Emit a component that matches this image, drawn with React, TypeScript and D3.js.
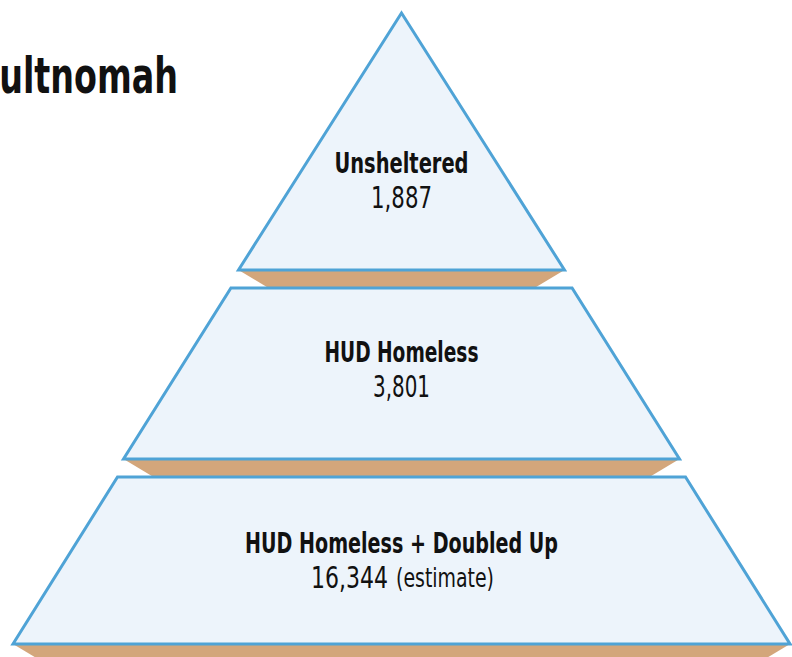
import React from "react";
import * as d3 from "d3";

// ---- data ----
const tierLabels = ["Unsheltered", "HUD Homeless", "HUD Homeless + Doubled Up"];
const tierValues = [1887, 3801, 16344];
const tierNotes = ["", "", "(estimate)"];
const titleText = "Multnomah";

// ---- layout ----
const W = 792;
const H = 657;
const CX = 401.5;
const APEX_Y = 13;
const GAP = 18; // depth of the tan base under each tier
const tierBottoms = [270, 459, 644];
const SHADOW_INSET = 30;
const labelBaselines = [173, 362, 553];
const valueOffset = 35;
// rendered widths of the condensed typeface in the source
const labelWidths = [134, 154, 313];
const valueWidths = [61, 57, 77];
const noteWidths = [0, 0, 98];
const NOTE_GAP = 8;

const FONT = "'Liberation Sans Narrow', 'DejaVu Sans Condensed', 'Arial Narrow', sans-serif";

// half-width of the pyramid as a function of y
const halfWidth = d3
  .scaleLinear()
  .domain([13, 270, 289, 459, 477, 644])
  .range([0, 163, 171, 278, 284, 388.5])
  .clamp(true);

const fmt = d3.format(",");

export default function App() {
  const tiers = tierLabels.map((label, i) => {
    const top = i === 0 ? APEX_Y : tierBottoms[i - 1] + GAP;
    const bottom = tierBottoms[i];
    return { label, value: tierValues[i], note: tierNotes[i], top, bottom, i };
  });

  const line = d3.line<[number, number]>();

  return (
    <svg
      width={W}
      height={H}
      style={{ position: "absolute", left: 0, top: 0, display: "block" }}
      fontFamily={FONT}
    >
      <rect width={W} height={H} fill="#ffffff" />
      {/* tan bases */}
      {tiers.map((t) => {
        const hwB = halfWidth(t.bottom);
        const pts: [number, number][] = [
          [CX - hwB, t.bottom],
          [CX + hwB, t.bottom],
          [CX + hwB - SHADOW_INSET, t.bottom + GAP],
          [CX - hwB + SHADOW_INSET, t.bottom + GAP],
        ];
        return <path key={"s" + t.i} d={line(pts) + "Z"} fill="#d3a67b" />;
      })}
      {/* tiers */}
      {tiers.map((t) => {
        const hwT = halfWidth(t.top);
        const hwB = halfWidth(t.bottom);
        const pts: [number, number][] =
          t.i === 0
            ? [
                [CX, t.top],
                [CX + hwB, t.bottom],
                [CX - hwB, t.bottom],
              ]
            : [
                [CX - hwT, t.top],
                [CX + hwT, t.top],
                [CX + hwB, t.bottom],
                [CX - hwB, t.bottom],
              ];
        return (
          <path
            key={"t" + t.i}
            d={line(pts) + "Z"}
            fill="#edf4fb"
            stroke="#4fa3d6"
            strokeWidth={3}
            strokeLinejoin="miter"
          />
        );
      })}
      {/* labels */}
      {tiers.map((t) => {
        const labelY = labelBaselines[t.i];
        const valueY = labelY + valueOffset;
        const vw = valueWidths[t.i];
        const nw = noteWidths[t.i];
        const total = vw + (t.note ? NOTE_GAP + nw : 0);
        const startX = CX - total / 2 + (t.note ? 1 : 0);
        return (
          <g key={"l" + t.i}>
            <text
              x={CX - labelWidths[t.i] / 2}
              y={labelY}
              fontWeight="bold"
              fontSize={29}
              fill="#111"
              textLength={labelWidths[t.i]}
              lengthAdjust="spacingAndGlyphs"
            >
              {t.label}
            </text>
            <text
              x={startX}
              y={valueY}
              fontSize={31}
              fill="#111"
              textLength={vw}
              lengthAdjust="spacingAndGlyphs"
            >
              {fmt(t.value)}
            </text>
            {t.note ? (
              <text
                x={startX + vw + NOTE_GAP}
                y={valueY - 1}
                fontSize={26}
                fill="#111"
                textLength={nw}
                lengthAdjust="spacingAndGlyphs"
              >
                {t.note}
              </text>
            ) : null}
          </g>
        );
      })}
      {/* title (clipped at left as in the source) */}
      <text
        x={-34}
        y={93}
        fontWeight="bold"
        fontSize={49}
        fill="#111"
        textLength={212}
        lengthAdjust="spacingAndGlyphs"
      >
        {titleText}
      </text>
    </svg>
  );
}
